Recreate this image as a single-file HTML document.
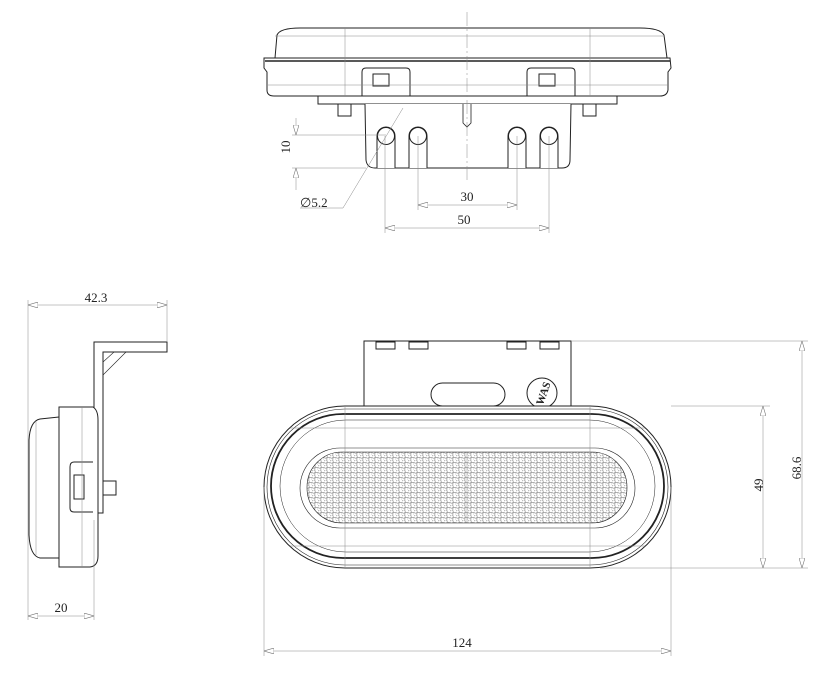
<!DOCTYPE html>
<html><head><meta charset="utf-8"><style>
html,body{margin:0;padding:0;background:#fff}
svg{display:block}
text{font-family:"Liberation Serif",serif;font-size:13px;fill:#222}
</style></head><body>
<svg width="832" height="675" viewBox="0 0 832 675" xmlns="http://www.w3.org/2000/svg">
<defs>
<marker id="a" viewBox="0 0 10 6" refX="10" refY="3" markerWidth="10" markerHeight="6" orient="auto-start-reverse" markerUnits="userSpaceOnUse"><path d="M0,0 L10,3 L0,6 Z" fill="#fff" stroke="#777" stroke-width="0.6"/></marker>
<pattern id="hx" width="6" height="5" patternUnits="userSpaceOnUse">
<circle cx="1.5" cy="1.5" r="1.7" fill="none" stroke="#888" stroke-width="0.6"/>
<circle cx="4.5" cy="4" r="1.7" fill="none" stroke="#888" stroke-width="0.6"/>
</pattern>
</defs>
<g fill="none" stroke="#222" stroke-width="1">
<path d="M275,58 L277,35 Q280,28 300,28 L640,28 Q660,28 664,35 L667,58" />
<path d="M264,58 L670,58 L671,68 L668,72 L668,90 Q667,96 660,96 L274,96 Q267,96 267,90 L267,72 L264,68 Z" fill="#fff"/>
<line x1="265" y1="61" x2="670" y2="61" stroke-width="1.5"/>
<rect x="318" y="96" width="299" height="8" fill="#fff"/>
<rect x="338" y="104" width="13" height="12"/>
<rect x="583" y="104" width="13" height="12"/>
<path d="M365,104 L366,160 Q367,168 375,168 L562,168 Q570,168 570,160 L571,104" fill="#fff"/>
<g fill="#fff">
<path d="M377,168 L377,136 A9,9 0 0 1 395,136 L395,168"/>
<path d="M409,168 L409,136 A9,9 0 0 1 427,136 L427,168"/>
<path d="M508,168 L508,136 A9,9 0 0 1 526,136 L526,168"/>
<path d="M540,168 L540,136 A9,9 0 0 1 558,136 L558,168"/>
<circle cx="386" cy="136" r="8.5"/><circle cx="418" cy="136" r="8.5"/>
<circle cx="517" cy="136" r="8.5"/><circle cx="549" cy="136" r="8.5"/>
</g>
<path d="M362,96 L362,72 Q362,68 366,68 L406,68 Q410,68 410,72 L410,96"/>
<path d="M527,96 L527,72 Q527,68 531,68 L571,68 Q575,68 575,72 L575,96"/>
<rect x="373" y="74" width="16" height="12"/>
<rect x="539" y="74" width="16" height="12"/>
<path d="M463,104 L463,123 L467,127 L471,123 L471,104" stroke-width="0.8"/>
</g>
<g stroke="#888" stroke-width="0.5" fill="none">
<line x1="467" y1="12" x2="467" y2="182" stroke-dasharray="14,3,2,3"/>
<line x1="345" y1="28" x2="345" y2="96"/><line x1="590" y1="28" x2="590" y2="96"/>
<line x1="275" y1="36" x2="665" y2="36"/><line x1="268" y1="85" x2="668" y2="85"/>
<line x1="292" y1="135" x2="386" y2="135"/><line x1="292" y1="168" x2="366" y2="168"/>
<line x1="296" y1="118" x2="296" y2="135" marker-end="url(#a)"/>
<line x1="296" y1="190" x2="296" y2="168" marker-end="url(#a)"/>
<line x1="403" y1="108" x2="343" y2="208"/><line x1="343" y1="208" x2="300" y2="208"/>
<line x1="418" y1="136" x2="418" y2="210"/><line x1="517" y1="136" x2="517" y2="210"/>
<line x1="385" y1="136" x2="385" y2="233"/><line x1="549" y1="136" x2="549" y2="233"/>
<line x1="418" y1="205" x2="517" y2="205" marker-start="url(#a)" marker-end="url(#a)"/>
<line x1="385" y1="228" x2="549" y2="228" marker-start="url(#a)" marker-end="url(#a)"/>
</g>
<text x="295" y="152" text-anchor="middle" transform="rotate(-90 290 152)">10</text>
<text x="300" y="207">∅5.2</text>
<text x="467" y="201" text-anchor="middle">30</text>
<text x="464" y="224" text-anchor="middle">50</text>

<g fill="none" stroke="#222" stroke-width="1">
<path d="M94,513 L94,342 L167,342 L167,352 L103,352 L103,513 Z" fill="#fff"/>
<path d="M103,362 L114,352 L126,352 L103,375" stroke-width="0.6"/>
<path d="M59,417 L40,419 Q30,421 29,440 L29,535 Q30,556 40,558 L59,558" fill="#fff"/>
<path d="M59,407 L93,407 Q98,410 98,420 L98,556 Q98,566 90,567 L59,567 Z" fill="#fff"/>
<rect x="103" y="481" width="13" height="14"/>
<path d="M93,462 L74,462 Q70,462 70,467 L70,508 Q70,512 74,512 L93,512"/>
<rect x="74" y="475" width="10" height="24"/>
</g>
<g stroke="#888" stroke-width="0.5" fill="none">
<line x1="28" y1="300" x2="28" y2="620"/><line x1="167" y1="300" x2="167" y2="342"/><line x1="94" y1="520" x2="94" y2="620"/>
<line x1="82" y1="407" x2="82" y2="567"/><line x1="36" y1="421" x2="36" y2="555"/>
<line x1="28" y1="305" x2="167" y2="305" marker-start="url(#a)" marker-end="url(#a)"/>
<line x1="28" y1="616" x2="94" y2="616" marker-start="url(#a)" marker-end="url(#a)"/>
</g>
<text x="96" y="302" text-anchor="middle">42.3</text>
<text x="61" y="612" text-anchor="middle">20</text>

<g fill="none" stroke="#222" stroke-width="1">
<rect x="364" y="341" width="207" height="66" fill="#fff"/>
<rect x="376" y="342" width="19" height="7"/><rect x="409" y="342" width="19" height="7"/>
<rect x="507" y="342" width="19" height="7"/><rect x="540" y="342" width="19" height="7"/>
<rect x="431" y="383" width="74" height="23" rx="11.5"/>
<circle cx="542" cy="393" r="15"/>
<rect x="264" y="406" width="407" height="162" rx="81" fill="#fff"/>
<rect x="267" y="409" width="401" height="156" rx="78" stroke-width="0.6"/>
<rect x="271" y="414" width="393" height="144" rx="72" stroke-width="1.8"/>
<rect x="280" y="420" width="375" height="132" rx="66" stroke-width="0.5"/>
<rect x="300" y="448" width="335" height="80" rx="40" stroke-width="0.6"/>
<rect x="307" y="452" width="320" height="71" rx="35" fill="url(#hx)" stroke-width="0.6"/>
</g>
<text x="542" y="398" text-anchor="middle" style="font-size:11px;font-weight:bold" transform="rotate(-70 542 393)">WAS</text>
<g stroke="#888" stroke-width="0.5" fill="none">
<line x1="345" y1="406" x2="345" y2="568"/><line x1="590" y1="406" x2="590" y2="568"/>
<line x1="290" y1="428" x2="645" y2="428"/><line x1="290" y1="546" x2="645" y2="546"/>
<line x1="467" y1="452" x2="467" y2="523"/>
<line x1="571" y1="341" x2="808" y2="341"/><line x1="671" y1="406" x2="770" y2="406"/><line x1="600" y1="568" x2="808" y2="568"/>
<line x1="264" y1="487" x2="264" y2="656"/><line x1="671" y1="487" x2="671" y2="656"/>
<line x1="264" y1="651" x2="671" y2="651" marker-start="url(#a)" marker-end="url(#a)"/>
<line x1="763" y1="406" x2="763" y2="568" marker-start="url(#a)" marker-end="url(#a)"/>
<line x1="802" y1="341" x2="802" y2="568" marker-start="url(#a)" marker-end="url(#a)"/>
</g>
<text x="462" y="647" text-anchor="middle">124</text>
<text x="759" y="489" text-anchor="middle" transform="rotate(-90 759 485)">49</text>
<text x="797" y="472" text-anchor="middle" transform="rotate(-90 797 468)">68.6</text>
</svg>
</body></html>
